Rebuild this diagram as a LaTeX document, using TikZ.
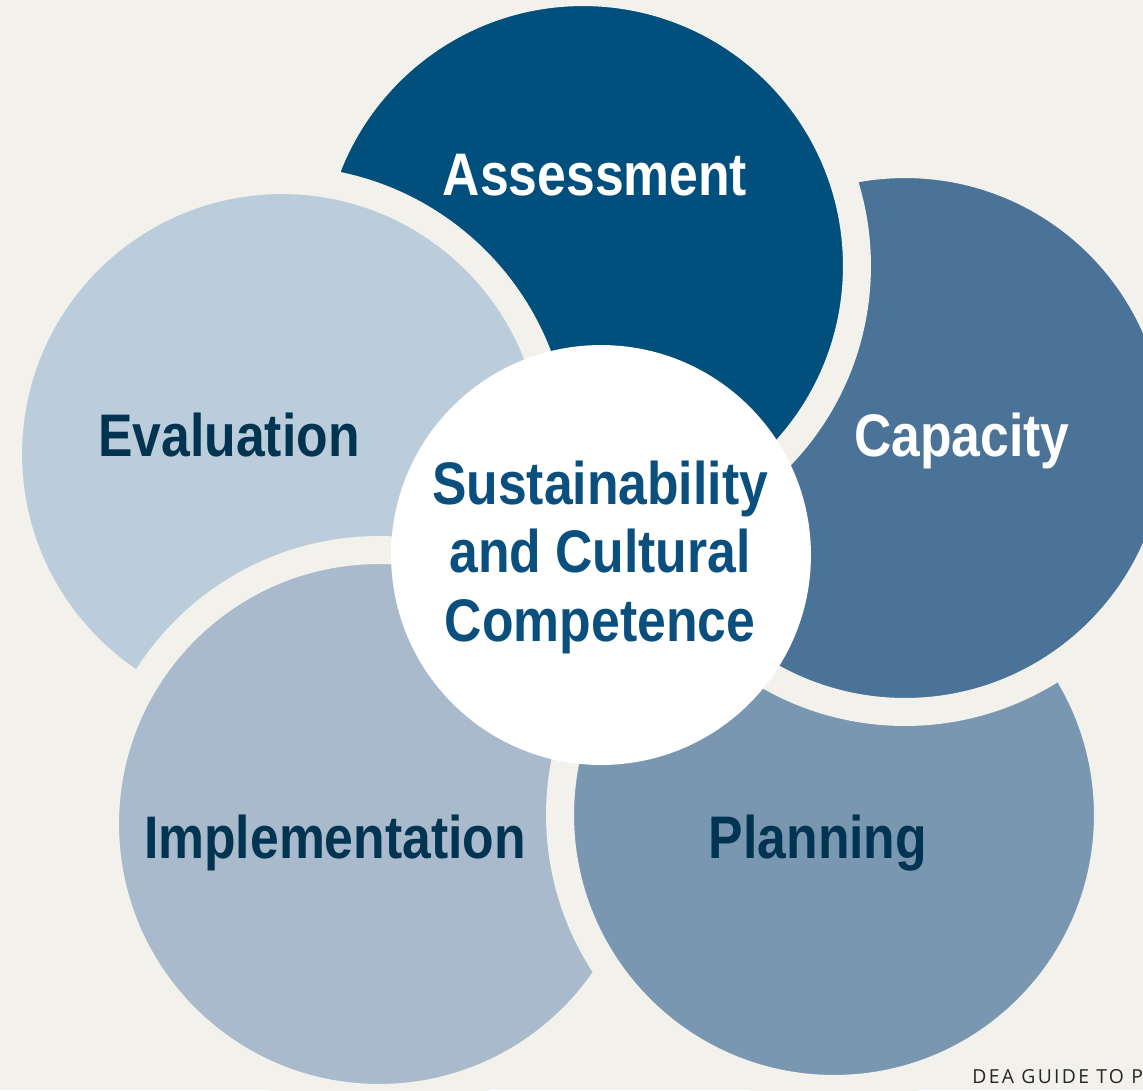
\documentclass[tikz,border=0pt]{standalone}
\usepackage{fontspec}
\usepackage{xcolor}
\usepackage{tikz}
\usetikzlibrary{positioning}
\newfontfamily\lblfont{Liberation Sans}[FakeStretch=0.86]
\newfontfamily\footfont{Open Sans}[LetterSpace=12]
\definecolor{paper}{HTML}{F2F1EC}
\definecolor{assesscol}{HTML}{004F7D}
\definecolor{capacol}{HTML}{4A7397}
\definecolor{plancol}{HTML}{7A97B1}
\definecolor{implcol}{HTML}{A8BACC}
\definecolor{evalcol}{HTML}{BBCCDA}
\definecolor{darktext}{HTML}{003450}
\definecolor{centertext}{HTML}{0A4F7E}
\tikzset{
  petal/.style={circle, inner sep=0pt, outer sep=0pt, minimum size=10.96cm, fill=#1, draw=paper, line width=0.56cm},
  lbl/.style={anchor=base, inner sep=0pt, font=\lblfont\bfseries\fontsize{34.2}{39}\selectfont}
}

\begin{document}
\begin{tikzpicture}[x=0.02cm, y=-0.02cm]
            \useasboundingbox (0,0) rectangle (1143,1090);
            \clip (0,0) rectangle (1143,1090);
            \fill[paper] (0,0) rectangle (1143,1090);

            % petals overlap in a ring: each one lies over the one before
            \node[petal=assesscol] (assess) at (583, 266) {};
            \node[petal=evalcol] (eval) at (282, 454) {};
            \node[petal=implcol] (impl) at (379, 824) {};
            \node[petal=plancol] (plan) at (834, 815) {};
            \node[petal=capacol] (capa) at (905, 438) {};
            % close the ring: assessment again over capacity
            \begin{scope}
                \clip (600, 0) rectangle (1143, 600);
                \node[petal=assesscol] (assesstop) at (583, 266) {};
            \end{scope}
            \node[circle, inner sep=0pt, minimum size=8.4cm, fill=white] (core) at (601, 555) {};

            \node[lbl, text=white] (assesslabel) at (595, 195) {Assessment};
            \node[lbl, text=white] (capalabel) at (962, 456) {Capacity};
            \node[lbl, text=darktext] (evallabel) at (229, 456) {Evaluation};
            \node[lbl, text=darktext] (impllabel) at (335, 858) {Implementation};
            \node[lbl, text=darktext] (planlabel) at (818, 858) {Planning};
            \node[lbl, anchor=center, text=centertext, align=center] (corelabel) at (600, 557) {Sustainability\\and Cultural\\Competence};

            \node[anchor=base west, inner sep=0pt, text=black!85, font=\footfont\fontsize{11}{13}\selectfont] (foot) at (972, 1083) {DEA GUIDE TO P};
        \end{tikzpicture}
\end{document}
